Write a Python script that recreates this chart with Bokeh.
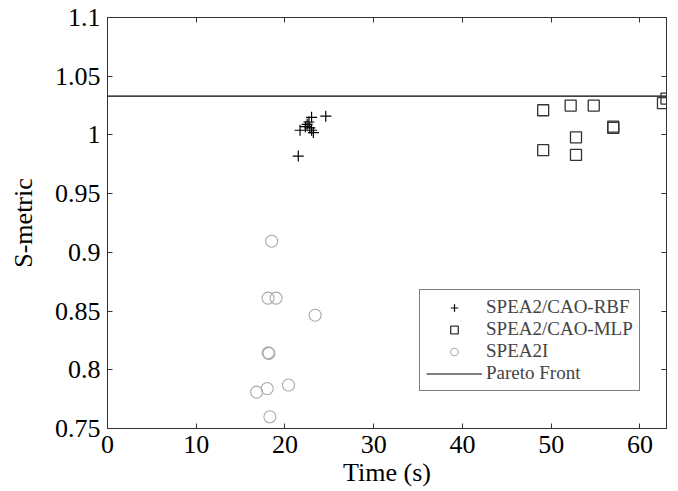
from bokeh.plotting import figure
from bokeh.models import LinearAxis, FixedTicker, CustomJSTickFormatter, Legend, Range1d
from bokeh.embed import file_html
from bokeh.resources import INLINE

# --- data ---
rbf_time = [21.5, 21.7, 22.3, 22.5, 22.7, 23.0, 23.0, 22.8, 23.2, 24.6]
rbf_s = [0.982, 1.004, 1.007, 1.009, 1.011, 1.015, 1.004, 1.006, 1.002, 1.016]

mlp_time = [49.1, 52.2, 54.8, 57.0, 57.0, 52.8, 49.1, 52.8, 63.0, 62.6]
mlp_s = [1.021, 1.025, 1.025, 1.007, 1.006, 0.998, 0.987, 0.983, 1.031, 1.027]

spea2i_time = [18.5, 18.1, 19.0, 23.4, 18.1, 18.2, 20.4, 18.0, 16.8, 18.3]
spea2i_s = [0.9095, 0.861, 0.861, 0.8465, 0.8145, 0.814, 0.787, 0.784, 0.781, 0.760]

pareto_time = [0, 63]
pareto_s = [1.033, 1.033]

x_ticks = [0, 10, 20, 30, 40, 50, 60]
y_ticks = [0.75, 0.8, 0.85, 0.9, 0.95, 1.0, 1.05, 1.1]

FONT = "Liberation Serif"

p = figure(width=678, height=491, output_backend="svg", toolbar_location=None,
           x_range=Range1d(0, 63), y_range=Range1d(0.75, 1.1),
           min_border_left=107, min_border_right=12, min_border_top=17, min_border_bottom=63)
p.grid.visible = False
p.background_fill_color = "white"
p.border_fill_color = "white"
p.outline_line_color = "#333333"
p.outline_line_width = 1

fmt = CustomJSTickFormatter(code="return Number(tick.toFixed(2)).toString();")

for ax in p.xaxis + p.yaxis:
    ax.major_tick_in = 5
    ax.major_tick_out = 0
    ax.minor_tick_in = 0
    ax.minor_tick_out = 0
    ax.axis_line_color = "#333333"
    ax.major_tick_line_color = "#333333"
    ax.major_label_text_font = FONT
    ax.major_label_text_font_size = "26px"
    ax.major_label_text_color = "black"
    ax.axis_label_text_font = FONT
    ax.axis_label_text_font_size = "26px"
    ax.axis_label_text_font_style = "normal"
    ax.axis_label_text_color = "black"
    ax.major_label_standoff = 7
    ax.formatter = fmt

p.xaxis.ticker = FixedTicker(ticks=x_ticks)
p.yaxis.ticker = FixedTicker(ticks=y_ticks)
p.xaxis.axis_label = "Time (s)"
p.yaxis.axis_label = "S-metric"
p.xaxis.axis_label_standoff = 2
p.yaxis.axis_label_standoff = 14

# mirrored axes (ticks only)
blank = CustomJSTickFormatter(code="return '';")
for loc, tk in (("right", y_ticks), ("above", x_ticks)):
    a = LinearAxis(ticker=FixedTicker(ticks=tk), formatter=blank,
                   major_tick_in=5, major_tick_out=0, minor_tick_in=0, minor_tick_out=0,
                   axis_line_color="#333333", major_tick_line_color="#333333",
                   major_label_standoff=0)
    p.add_layout(a, loc)

r_line = p.line(pareto_time, pareto_s, line_color="black", line_width=1.2)
r_rbf = p.scatter(rbf_time, rbf_s, marker="cross", size=11, line_color="black", line_width=1.2)
r_mlp = p.scatter(mlp_time, mlp_s, marker="square", size=11, fill_color=None,
                  line_color="#333333", line_width=1.3)
r_i = p.scatter(spea2i_time, spea2i_s, marker="circle", size=12, fill_color=None,
                line_color="#aaaaaa", line_width=1.1)

legend = Legend(items=[("SPEA2/CAO-RBF", [r_rbf]), ("SPEA2/CAO-MLP", [r_mlp]),
                       ("SPEA2I", [r_i]), ("Pareto Front", [r_line])],
                location=(312, 37), label_text_font=FONT, label_text_font_size="19px",
                glyph_width=56, glyph_height=19, label_height=19, label_standoff=4,
                spacing=0, padding=6, margin=0, border_line_color="black",
                border_line_width=1, background_fill_alpha=1)
p.add_layout(legend, "center")

open("out.html", "w").write(file_html(p, INLINE))
